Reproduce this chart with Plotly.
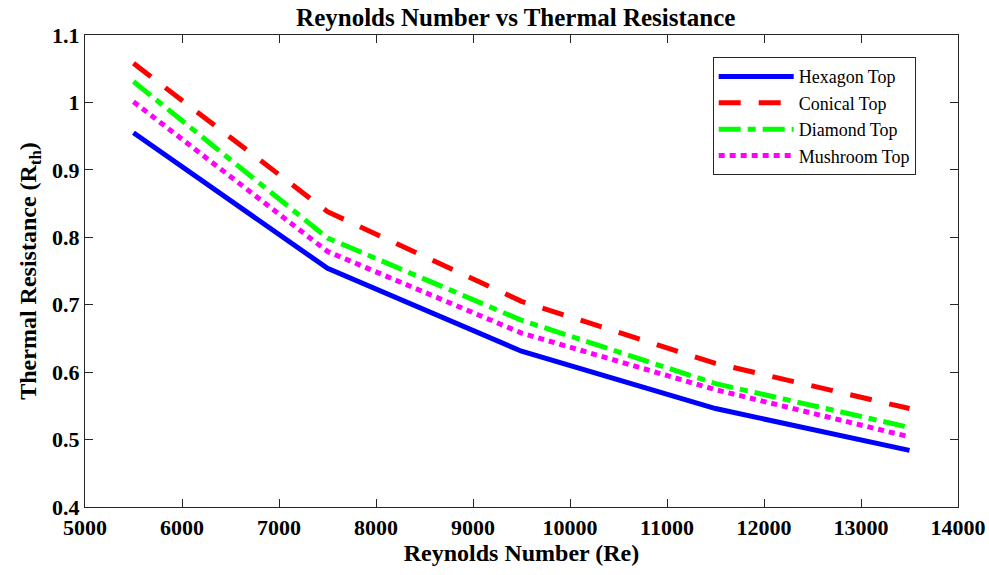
import plotly.graph_objects as go

re_vals = [5500, 7500, 9500, 11500, 13500]
hexagon = [0.955, 0.754, 0.631, 0.546, 0.484]
conical = [1.058, 0.838, 0.705, 0.613, 0.546]
diamond = [1.031, 0.799, 0.677, 0.583, 0.518]
mushroom = [1.001, 0.779, 0.658, 0.574, 0.504]

names = ["Hexagon Top", "Conical Top", "Diamond Top", "Mushroom Top"]
colors = ["#0000FF", "#FF0000", "#00FF00", "#FF00FF"]
dashes = ["solid", "22px,18px", "22px,7px,8px,7px", "6px,5px"]

x_ticks = [5000, 6000, 7000, 8000, 9000, 10000, 11000, 12000, 13000, 14000]
y_ticks = [0.4, 0.5, 0.6, 0.7, 0.8, 0.9, 1.0, 1.1]
y_ticktext = ["0.4", "0.5", "0.6", "0.7", "0.8", "0.9", "1", "1.1"]

FONT = "Liberation Serif"

fig = go.Figure()
for name, ys, c, d in zip(names, [hexagon, conical, diamond, mushroom], colors, dashes):
    fig.add_trace(go.Scatter(x=re_vals, y=ys, mode="lines", name=name,
                             line=dict(color=c, width=5, dash=d)))

axis_common = dict(showline=True, linecolor="#262626", linewidth=1.3, mirror="ticks",
                   ticks="inside", ticklen=8, tickcolor="#262626", tickwidth=1,
                   showgrid=False, zeroline=False,
                   tickfont=dict(family=FONT, size=22, color="#000000", weight="bold"))

fig.update_layout(
    width=989, height=575,
    margin=dict(l=85, r=31, t=35, b=68, autoexpand=False),
    paper_bgcolor="white", plot_bgcolor="white",
    title=dict(text="<b>Reynolds Number vs Thermal Resistance</b>",
               font=dict(family=FONT, size=25, color="black"),
               x=0.5215, xanchor="center", y=0.97, yanchor="middle"),
    xaxis=dict(range=[5000, 14000], tickvals=x_ticks, ticktext=[str(v) for v in x_ticks],
               title=dict(text="<b>Reynolds Number (Re)</b>", font=dict(family=FONT, size=24, color="black"),
                          standoff=2),
               **axis_common),
    yaxis=dict(range=[0.4, 1.1], tickvals=y_ticks, ticktext=y_ticktext,
               title=dict(text="<b>Thermal Resistance (R<sub>th</sub>)</b>",
                          font=dict(family=FONT, size=24, color="black"), standoff=8),
               **axis_common),
    legend=dict(x=0.719, y=0.953, xanchor="left", yanchor="top",
                bgcolor="white", bordercolor="#262626", borderwidth=1,
                font=dict(family=FONT, size=18, color="black"),
                tracegroupgap=0, itemwidth=75),
    showlegend=True,
)

fig.write_html("out.html")
